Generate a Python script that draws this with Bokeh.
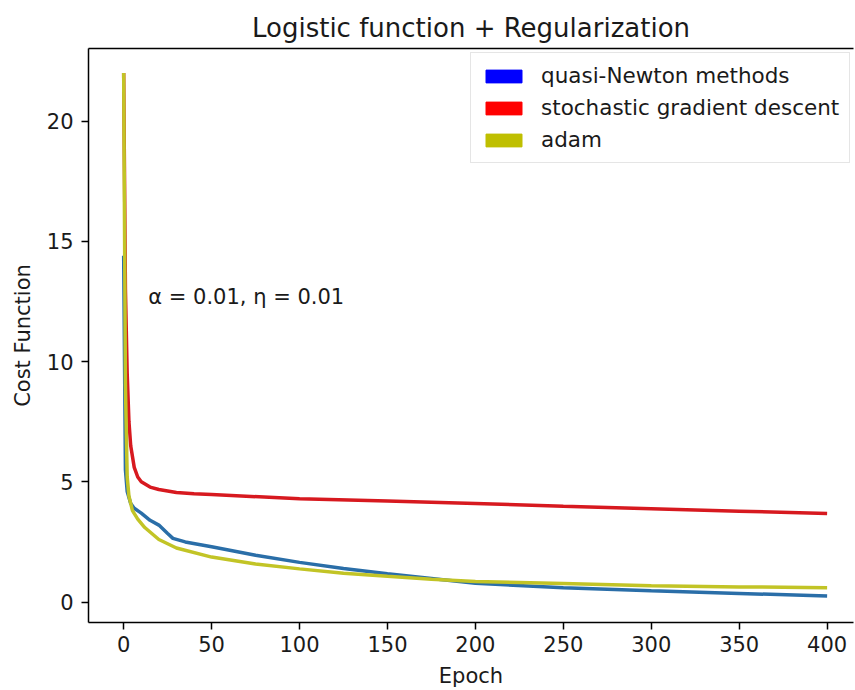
from bokeh.plotting import figure
from bokeh.models import Range1d, FixedTicker, LinearAxis, Legend, LegendItem, Label
from bokeh.embed import file_html
from bokeh.resources import INLINE

# ---------------- data ----------------
title_text = "Logistic function + Regularization"
x_label = "Epoch"
y_label = "Cost Function"
x_ticks = [0, 50, 100, 150, 200, 250, 300, 350, 400]
y_ticks = [0, 5, 10, 15, 20]
series_names = ["quasi-Newton methods", "stochastic gradient descent", "adam"]
legend_colors = ["#0000ff", "#ff0000", "#bfbf00"]
line_colors = ["#2a6ea8", "#d7191f", "#c2c426"]

qn_epoch = [0, 1, 2, 4, 6, 10, 15, 20, 25, 28, 35, 50, 75, 100, 125, 150, 175, 200, 250, 300, 350, 400]
qn_cost = [14.4, 5.5, 4.6, 4.1, 3.9, 3.7, 3.4, 3.2, 2.85, 2.65, 2.5, 2.3, 1.95, 1.65, 1.4, 1.18, 0.98, 0.78, 0.6, 0.47, 0.36, 0.25]

sgd_epoch = [0, 1, 2, 3, 4, 6, 8, 10, 15, 20, 30, 40, 50, 100, 150, 200, 250, 300, 350, 400]
sgd_cost = [22.0, 13.0, 9.5, 7.5, 6.5, 5.6, 5.2, 5.0, 4.78, 4.68, 4.56, 4.5, 4.47, 4.3, 4.2, 4.1, 3.98, 3.88, 3.78, 3.68]

adam_epoch = [0, 1, 2, 3, 5, 8, 12, 20, 30, 50, 75, 100, 125, 150, 175, 200, 250, 300, 350, 400]
adam_cost = [22.0, 9.0, 5.2, 4.4, 3.8, 3.45, 3.1, 2.6, 2.25, 1.87, 1.58, 1.38, 1.2, 1.07, 0.95, 0.86, 0.77, 0.68, 0.63, 0.6]

annotation_text = "α = 0.01,  η = 0.01"
annotation_x = 14
annotation_y = 12.7

FONT = "DejaVu Sans"
TEXT_COLOR = "#1a1a1a"
NAN = float("nan")

# ---------------- figure ----------------
p = figure(width=855, height=690, output_backend="svg", toolbar_location=None,
           x_range=Range1d(-20, 415), y_range=Range1d(-0.85, 23.02),
           min_border_left=88, min_border_right=2, min_border_top=48, min_border_bottom=68,
           x_axis_label=x_label, y_axis_label=y_label)
p.outline_line_color = None
p.grid.visible = False
p.background_fill_color = "white"
p.border_fill_color = "white"

p.title.text = title_text
p.title.align = "center"
p.title.offset = 2
p.title.text_font = FONT
p.title.text_font_size = "26px"
p.title.text_font_style = "normal"
p.title.text_color = TEXT_COLOR
p.title.standoff = 12

p.xaxis.ticker = FixedTicker(ticks=x_ticks)
p.yaxis.ticker = FixedTicker(ticks=y_ticks)
for ax in (p.xaxis, p.yaxis):
    ax.major_tick_out = 7
    ax.major_tick_in = 0
    ax.minor_tick_out = 0
    ax.minor_tick_in = 0
    ax.axis_line_width = 1.5
    ax.axis_line_color = "black"
    ax.major_tick_line_width = 1.5
    ax.major_tick_line_color = "black"
    ax.major_label_text_font = FONT
    ax.major_label_text_font_size = "21px"
    ax.major_label_text_color = TEXT_COLOR
    ax.axis_label_text_font = FONT
    ax.axis_label_text_font_size = "21px"
    ax.axis_label_text_font_style = "normal"
    ax.axis_label_text_color = TEXT_COLOR
p.xaxis.major_label_standoff = 6
p.xaxis.axis_label_standoff = 9
p.yaxis.major_label_standoff = 8
p.yaxis.axis_label_standoff = 9

# top spine
top = LinearAxis(ticker=FixedTicker(ticks=[]), major_label_text_font_size="0px",
                 major_tick_out=0, major_tick_in=0, minor_tick_out=0, minor_tick_in=0,
                 axis_line_width=1.5, axis_line_color="black")
p.add_layout(top, "above")

# lines
p.line(qn_epoch, qn_cost, line_color=line_colors[0], line_width=3.5)
p.line(sgd_epoch, sgd_cost, line_color=line_colors[1], line_width=3.5)
p.line(adam_epoch, adam_cost, line_color=line_colors[2], line_width=3.5)

# legend proxies (filled patches, nothing drawn in the plot)
proxies = []
for c in legend_colors:
    proxies.append(p.quad(left=[NAN], right=[NAN], top=[NAN], bottom=[NAN],
                          fill_color=c, line_color=c))

legend = Legend(items=[LegendItem(label=n, renderers=[r]) for n, r in zip(series_names, proxies)],
                location=(382, 459), orientation="vertical",
                label_text_font=FONT, label_text_font_size="21.5px", label_text_color=TEXT_COLOR,
                glyph_width=45, glyph_height=16, label_standoff=15,
                padding=10, spacing=7, margin=0,
                border_line_color="#cccccc", border_line_width=1,
                background_fill_color="white", background_fill_alpha=0.8)
p.add_layout(legend)

p.add_layout(Label(x=annotation_x, y=annotation_y, text=annotation_text,
                   text_font=FONT, text_font_size="21px", text_color=TEXT_COLOR,
                   text_baseline="alphabetic", text_align="left"))

open("out.html", "w").write(file_html(p, INLINE))
